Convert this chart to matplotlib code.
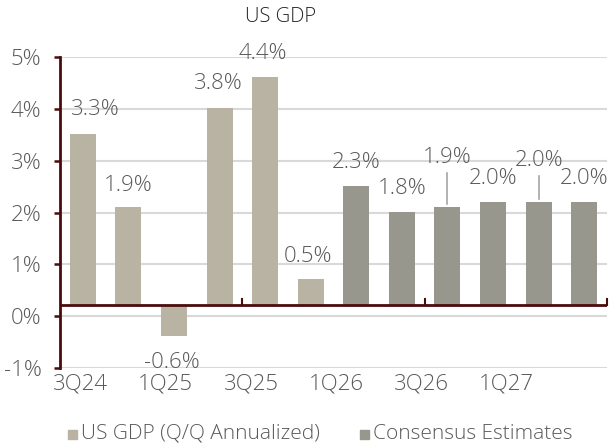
import matplotlib
matplotlib.use("Agg")
import matplotlib.pyplot as plt
from matplotlib.patches import Rectangle

plt.rcParams['font.family'] = ['Open Sans', 'DejaVu Sans']
plt.rcParams['font.weight'] = 'light'

# ---- data ----
quarters = ["3Q24", "4Q24", "1Q25", "2Q25", "3Q25", "4Q25",
            "1Q26", "2Q26", "3Q26", "4Q26", "1Q27", "2Q27"]
gdp = [3.3, 1.9, -0.6, 3.8, 4.4, 0.5, 2.3, 1.8, 1.9, 2.0, 2.0, 2.0]
is_estimate = [False] * 6 + [True] * 6
series_names = ["US GDP (Q/Q Annualized)", "Consensus Estimates"]
tick_labels = ["3Q24", "1Q25", "3Q25", "1Q26", "3Q26", "1Q27"]
y_ticks = [-1, 0, 1, 2, 3, 4, 5]
title = "US GDP"

# ---- style ----
c_actual = "#b9b3a3"
c_est = "#97978e"
c_axis = "#4a0c0c"
c_grid = "#d9d9d9"
c_text = "#595959"
baseline = 0.21

# label offsets (dx in categories, dy in data units above bar end)
label_off = [(0.27, 0.47), (0.0, 0.42), (-0.05, -0.5), (-0.03, 0.48), (-0.05, 0.45), (-0.05, 0.45),
             (0.0, 0.45), (0.0, 0.46), (0.0, 0.95), (0.0, 0.45), (0.0, 0.8), (0.0, 0.45)]
leader = [False] * 8 + [True, False, True, False]

fig = plt.figure(figsize=(6.09, 4.46), dpi=100)
ax = fig.add_axes([60 / 609, 1 - 368 / 446, (607 - 60) / 609, (368 - 57) / 446])

x = list(range(len(quarters)))
colors = [c_est if e else c_actual for e in is_estimate]
ax.bar(x, gdp, bottom=baseline, width=0.57, color=colors, zorder=3)

ax.set_xlim(-0.5, len(quarters) - 0.5)
ax.set_ylim(-1, 5)

for t in y_ticks:
    ax.axhline(t, color=c_grid, lw=1.5, zorder=1)
ax.set_yticks(y_ticks)
ax.set_yticklabels([f"{t}%" for t in y_ticks], color=c_text, fontsize=16)
ax.tick_params(axis='y', length=4.3, width=1.8, color=c_axis, pad=9)

for s in ["top", "right", "bottom"]:
    ax.spines[s].set_visible(False)
ax.spines["left"].set_color(c_axis)
ax.spines["left"].set_linewidth(2)

# category axis at baseline
ax.axhline(baseline, color=c_axis, lw=2, zorder=4)
for k in range(4, len(quarters) + 1, 4):
    ax.plot([k - 0.5, k - 0.5], [baseline, baseline + 0.12], color=c_axis, lw=1.5,
            zorder=4, clip_on=False)

# category labels
ax.set_xticks([-0.05 + 1.87 * k for k in range(len(tick_labels))])
ax.set_xticklabels(tick_labels, color=c_text, fontsize=16)
ax.tick_params(axis='x', length=0, pad=4)

# value labels
for i, v in enumerate(gdp):
    dx, dy = label_off[i]
    top = baseline + v
    ly = top + dy
    ax.text(i + dx, ly, f"{v:.1f}%", ha="center", va="center", fontsize=16,
            color=c_text, zorder=5)
    if leader[i]:
        ax.plot([i + dx * 0.5, i], [ly - 0.3, top + 0.05], color="#a6a6a6", lw=1.2, zorder=5)

fig.text(281 / 609, 1 - 17 / 446, title, ha="center", va="center", fontsize=14.5,
         color="#222222")

# legend
for j, (name, col, xs) in enumerate(zip(series_names, [c_actual, c_est], [68, 360])):
    fig.patches.append(Rectangle((xs / 609, 1 - 439 / 446), 9 / 609, 9 / 446,
                                 transform=fig.transFigure, color=col, figure=fig))
    fig.text((xs + 13) / 609, 1 - 434 / 446, name, ha="left", va="center",
             fontsize=15, color=c_text)

fig.savefig("out.png", dpi=100)
